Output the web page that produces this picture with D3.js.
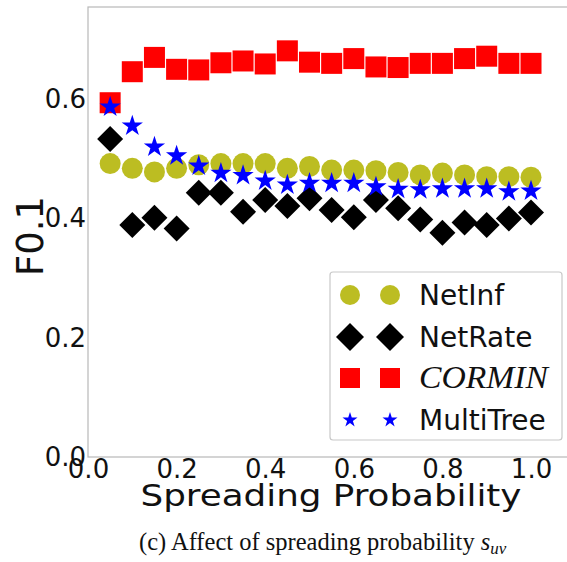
<!DOCTYPE html>
<html><head><meta charset="utf-8">
<script src="https://cdn.jsdelivr.net/npm/d3@7"></script>
<style>body{margin:0;background:#fff;} svg{display:block;}</style>
</head><body>
<svg id="c" width="567" height="562"></svg>
<script>
const xs = [0.05,0.10,0.15,0.20,0.25,0.30,0.35,0.40,0.45,0.50,0.55,0.60,0.65,0.70,0.75,0.80,0.85,0.90,0.95,1.00];
const netInf = [0.492,0.484,0.478,0.484,0.490,0.492,0.492,0.492,0.484,0.487,0.481,0.481,0.480,0.477,0.473,0.476,0.473,0.470,0.470,0.469];
const netRate = [0.533,0.389,0.401,0.383,0.443,0.443,0.411,0.431,0.421,0.434,0.414,0.402,0.431,0.417,0.398,0.376,0.393,0.389,0.400,0.410];
const cormin = [0.594,0.646,0.670,0.650,0.649,0.661,0.664,0.659,0.681,0.662,0.660,0.668,0.654,0.653,0.660,0.660,0.668,0.672,0.660,0.660];
const multiTree = [0.587,0.555,0.520,0.505,0.488,0.476,0.472,0.463,0.456,0.459,0.459,0.459,0.453,0.449,0.448,0.450,0.450,0.450,0.445,0.446];
const xTicks = [0.0,0.2,0.4,0.6,0.8,1.0];
const yTicks = [0.0,0.2,0.4,0.6];
const seriesNames = ["NetInf","NetRate","CORMIN","MultiTree"];

const svg = d3.select("#c");
const L = 88, R = 568, T = 7, B = 457;
const x = d3.scaleLinear().domain([0, 1.0835]).range([L, R]);
const y = d3.scaleLinear().domain([0, 0.7545]).range([B, T]);

// axes frame
svg.append("rect").attr("x", L).attr("y", T).attr("width", R - L).attr("height", B - T)
  .attr("fill", "none").attr("stroke", "#b8b8b8").attr("stroke-width", 1.2);

const fmt = d3.format(".1f");
const xAxis = svg.append("g").attr("transform", `translate(0,${B})`)
  .call(d3.axisBottom(x).tickValues(xTicks).tickFormat(fmt).tickSize(0).tickPadding(1));
const yAxis = svg.append("g").attr("transform", `translate(${L},0)`)
  .call(d3.axisLeft(y).tickValues(yTicks).tickFormat(fmt).tickSize(0).tickPadding(2));
[xAxis, yAxis].forEach(g => {
  g.select(".domain").remove();
  g.selectAll("text").attr("font-family", "DejaVu Sans").attr("font-size", 26).attr("fill", "#111");
});
xAxis.selectAll("text").attr("dy", "0.76em");

// markers
const diamondPath = (s) => `M0,${-s}L${s},0L0,${s}L${-s},0Z`;
const starPath = d3.symbol().type(d3.symbolStar).size(140)();
const starPathSmall = d3.symbol().type(d3.symbolStar).size(70)();

const idx = d3.range(xs.length);
const pl = svg.append("g");
pl.selectAll("circle.ni").data(idx).join("circle")
  .attr("cx", i => x(xs[i])).attr("cy", i => y(netInf[i])).attr("r", 10.5).attr("fill", "#bcbd22");
pl.selectAll("path.nr").data(idx).join("path").attr("class","nr")
  .attr("d", diamondPath(13)).attr("transform", i => `translate(${x(xs[i])},${y(netRate[i])})`).attr("fill", "#000");
pl.selectAll("rect.cm").data(idx).join("rect").attr("class","cm")
  .attr("x", i => x(xs[i]) - 10.5).attr("y", i => y(cormin[i]) - 10.5).attr("width", 21).attr("height", 21).attr("fill", "#ff0000");
pl.selectAll("path.mt").data(idx).join("path").attr("class","mt")
  .attr("d", starPath).attr("transform", i => `translate(${x(xs[i])},${y(multiTree[i])})`).attr("fill", "#0000ff");

// legend
const lg = svg.append("g");
lg.append("rect").attr("x", 330).attr("y", 272).attr("width", 232).attr("height", 168).attr("rx", 3)
  .attr("fill", "#fff").attr("fill-opacity", 0.85).attr("stroke", "#c8c8c8").attr("stroke-width", 1.2);
const rows = [295, 337, 378, 420];
const mx = [350, 390];
seriesNames.forEach((name, k) => {
  const cy = rows[k];
  mx.forEach(cx => {
    if (k === 0) lg.append("circle").attr("cx", cx).attr("cy", cy).attr("r", 10).attr("fill", "#bcbd22");
    if (k === 1) lg.append("path").attr("d", diamondPath(14)).attr("transform", `translate(${cx},${cy})`).attr("fill", "#000");
    if (k === 2) lg.append("rect").attr("x", cx - 10).attr("y", cy - 10).attr("width", 20).attr("height", 20).attr("fill", "#ff0000");
    if (k === 3) lg.append("path").attr("d", starPathSmall).attr("transform", `translate(${cx},${cy})`).attr("fill", "#0000ff");
  });
  const t = lg.append("text").attr("x", 419).attr("y", cy + 10).attr("fill", "#111").text(name);
  if (name === "CORMIN") t.attr("font-family", "Liberation Serif").attr("font-style", "italic").attr("font-size", 31)
      .attr("textLength", 129).attr("lengthAdjust", "spacingAndGlyphs");
  else t.attr("font-family", "DejaVu Sans").attr("font-size", 28);
});

// axis labels
svg.append("text").attr("x", 331).attr("y", 506).attr("text-anchor", "middle")
  .attr("font-family", "DejaVu Sans").attr("font-size", 30).attr("fill", "#111")
  .attr("textLength", 381).attr("lengthAdjust", "spacingAndGlyphs").text("Spreading Probability");
svg.append("text").attr("transform", "translate(43,236) rotate(-90)").attr("text-anchor", "middle")
  .attr("font-family", "DejaVu Sans").attr("font-size", 37).attr("fill", "#111").text("F0.1");

// caption
const cap = svg.append("text").attr("x", 139).attr("y", 550)
  .attr("font-family", "Liberation Serif").attr("font-size", 24.5).attr("fill", "#111");
cap.append("tspan").text("(c) Affect of spreading probability ");
cap.append("tspan").attr("font-style", "italic").text("s");
cap.append("tspan").attr("font-style", "italic").attr("font-size", 17).attr("dy", 4).text("uv");
</script>
</body></html>
